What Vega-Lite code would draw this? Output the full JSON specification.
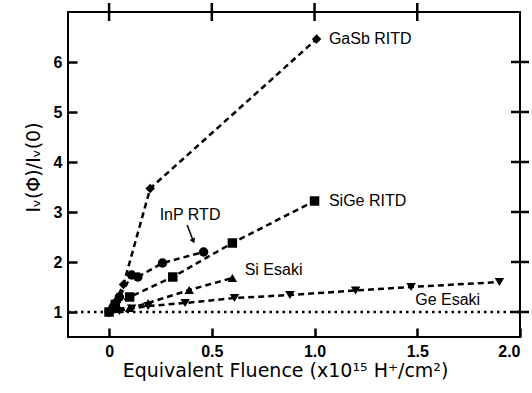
{
  "$schema": "https://vega.github.io/schema/vega-lite/v6.json",
  "autosize": {"type": "none"},
  "padding": {"left": 68, "top": 12, "right": 12, "bottom": 56},
  "width": 452,
  "height": 325,
  "background": "white",
  "config": {
    "view": {"stroke": "black", "strokeWidth": 2},
    "font": "Liberation Sans",
    "axis": {"grid": false, "domain": false, "ticks": true, "zindex": 1, "tickColor": "black", "tickWidth": 2.5, "labelColor": "black", "titleColor": "black"}
  },
  "datasets": {
    "series": [
      {"series": "GaSb RITD", "x": 0, "y": 1},
      {"series": "GaSb RITD", "x": 0.03, "y": 1.2},
      {"series": "GaSb RITD", "x": 0.07, "y": 1.55},
      {"series": "GaSb RITD", "x": 0.2, "y": 3.47},
      {"series": "GaSb RITD", "x": 1.01, "y": 6.46},
      {"series": "InP RTD", "x": 0, "y": 1},
      {"series": "InP RTD", "x": 0.02, "y": 1.1},
      {"series": "InP RTD", "x": 0.05, "y": 1.3},
      {"series": "InP RTD", "x": 0.11, "y": 1.74},
      {"series": "InP RTD", "x": 0.14, "y": 1.7},
      {"series": "InP RTD", "x": 0.26, "y": 1.98},
      {"series": "InP RTD", "x": 0.46, "y": 2.2},
      {"series": "SiGe RITD", "x": 0, "y": 1},
      {"series": "SiGe RITD", "x": 0.03, "y": 1.15},
      {"series": "SiGe RITD", "x": 0.1, "y": 1.3},
      {"series": "SiGe RITD", "x": 0.31, "y": 1.7},
      {"series": "SiGe RITD", "x": 0.6, "y": 2.38},
      {"series": "SiGe RITD", "x": 1.0, "y": 3.22},
      {"series": "Si Esaki", "x": 0, "y": 1},
      {"series": "Si Esaki", "x": 0.05, "y": 1.06},
      {"series": "Si Esaki", "x": 0.1, "y": 1.08},
      {"series": "Si Esaki", "x": 0.19, "y": 1.18},
      {"series": "Si Esaki", "x": 0.39, "y": 1.44},
      {"series": "Si Esaki", "x": 0.6, "y": 1.68},
      {"series": "Ge Esaki", "x": 0, "y": 1},
      {"series": "Ge Esaki", "x": 0.05, "y": 1.02},
      {"series": "Ge Esaki", "x": 0.11, "y": 1.07},
      {"series": "Ge Esaki", "x": 0.19, "y": 1.12},
      {"series": "Ge Esaki", "x": 0.37, "y": 1.18},
      {"series": "Ge Esaki", "x": 0.61, "y": 1.28},
      {"series": "Ge Esaki", "x": 0.88, "y": 1.34},
      {"series": "Ge Esaki", "x": 1.2, "y": 1.43},
      {"series": "Ge Esaki", "x": 1.47, "y": 1.5},
      {"series": "Ge Esaki", "x": 1.9, "y": 1.6}
    ],
    "ref": [
      {"x": -0.2, "y": 1},
      {"x": 2.0, "y": 1}
    ],
    "topticks": [
      {"x": 0, "y": 7}, {"x": 0.5, "y": 7}, {"x": 1.0, "y": 7}, {"x": 1.5, "y": 7}
    ],
    "rightticks": [
      {"x": 2.0, "y": 1}, {"x": 2.0, "y": 2}, {"x": 2.0, "y": 3}, {"x": 2.0, "y": 4}, {"x": 2.0, "y": 5}, {"x": 2.0, "y": 6}
    ],
    "labels": [
      {"label": "GaSb RITD", "x": 1.07, "y": 6.46},
      {"label": "SiGe RITD", "x": 1.07, "y": 3.22},
      {"label": "Si Esaki", "x": 0.66, "y": 1.84},
      {"label": "Ge Esaki", "x": 1.49, "y": 1.24}
    ],
    "inp": [
      {"label": "InP RTD", "x": 0.394, "y": 2.94}
    ],
    "arrow": [
      {"x": 0.38, "y": 2.74, "x2": 0.41, "y2": 2.42}
    ]
  },
  "layer": [
    {
      "data": {"name": "ref"},
      "mark": {"type": "line", "color": "black", "strokeWidth": 2.5, "strokeDash": [2.5, 4]},
      "encoding": {
        "x": {"field": "x", "type": "quantitative", "scale": {"domain": [-0.2, 2.0], "nice": false, "zero": false},
          "axis": {"orient": "bottom", "values": [0, 0.5, 1, 1.5, 2], "labelExpr": "datum.value == 0 ? '0' : format(datum.value, '.1f')", "tickSize": -9, "labelPadding": 15, "labelFontSize": 16, "labelFontWeight": "bold", "title": "Equivalent Fluence (x10¹⁵ H⁺/cm²)", "titleFont": "DejaVu Sans", "titleFontSize": 19, "titleFontWeight": "normal", "titlePadding": 2, "titleX": 217}},
        "y": {"field": "y", "type": "quantitative", "scale": {"domain": [0.5, 7], "nice": false, "zero": false},
          "axis": {"orient": "left", "values": [1, 2, 3, 4, 5, 6], "tickSize": -9, "labelPadding": 15, "labelFontSize": 16, "labelFontWeight": "bold", "title": "Iᵥ(Φ)/Iᵥ(0)", "titleFont": "DejaVu Sans", "titleFontSize": 19, "titleFontWeight": "normal", "titlePadding": 10, "titleY": 155}}
      }
    },
    {
      "data": {"name": "topticks"},
      "mark": {"type": "tick", "orient": "vertical", "color": "black", "size": 18, "thickness": 2.5, "opacity": 1},
      "encoding": {
        "x": {"field": "x", "type": "quantitative"},
        "y": {"field": "y", "type": "quantitative"}
      }
    },
    {
      "data": {"name": "rightticks"},
      "mark": {"type": "tick", "orient": "horizontal", "color": "black", "size": 18, "thickness": 2.5, "opacity": 1},
      "encoding": {
        "x": {"field": "x", "type": "quantitative"},
        "y": {"field": "y", "type": "quantitative"}
      }
    },
    {
      "data": {"name": "series"},
      "mark": {"type": "line", "color": "black", "strokeWidth": 2.5, "strokeDash": [6, 4]},
      "encoding": {
        "x": {"field": "x", "type": "quantitative"},
        "y": {"field": "y", "type": "quantitative"},
        "detail": {"field": "series"}
      }
    },
    {
      "data": {"name": "series"},
      "mark": {"type": "point", "filled": true, "opacity": 1, "size": 90, "color": "black"},
      "encoding": {
        "x": {"field": "x", "type": "quantitative"},
        "y": {"field": "y", "type": "quantitative"},
        "shape": {"field": "series", "type": "nominal", "legend": null,
          "scale": {"domain": ["GaSb RITD", "InP RTD", "SiGe RITD", "Si Esaki", "Ge Esaki"], "range": ["diamond", "circle", "square", "triangle-up", "triangle-down"]}}
      }
    },
    {
      "data": {"name": "labels"},
      "mark": {"type": "text", "align": "left", "baseline": "middle", "fontSize": 16, "color": "black"},
      "encoding": {
        "x": {"field": "x", "type": "quantitative"},
        "y": {"field": "y", "type": "quantitative"},
        "text": {"field": "label"}
      }
    },
    {
      "data": {"name": "inp"},
      "mark": {"type": "text", "align": "center", "baseline": "middle", "fontSize": 16, "color": "black"},
      "encoding": {
        "x": {"field": "x", "type": "quantitative"},
        "y": {"field": "y", "type": "quantitative"},
        "text": {"field": "label"}
      }
    },
    {
      "data": {"name": "arrow"},
      "mark": {"type": "rule", "color": "black", "strokeWidth": 1.5},
      "encoding": {
        "x": {"field": "x", "type": "quantitative"},
        "y": {"field": "y", "type": "quantitative"},
        "x2": {"field": "x2"},
        "y2": {"field": "y2"}
      }
    },
    {
      "data": {"name": "arrow"},
      "mark": {"type": "point", "shape": "triangle-down", "filled": true, "opacity": 1, "size": 35, "color": "black", "angle": -25},
      "encoding": {
        "x": {"field": "x2", "type": "quantitative"},
        "y": {"field": "y2", "type": "quantitative"}
      }
    }
  ]
}
